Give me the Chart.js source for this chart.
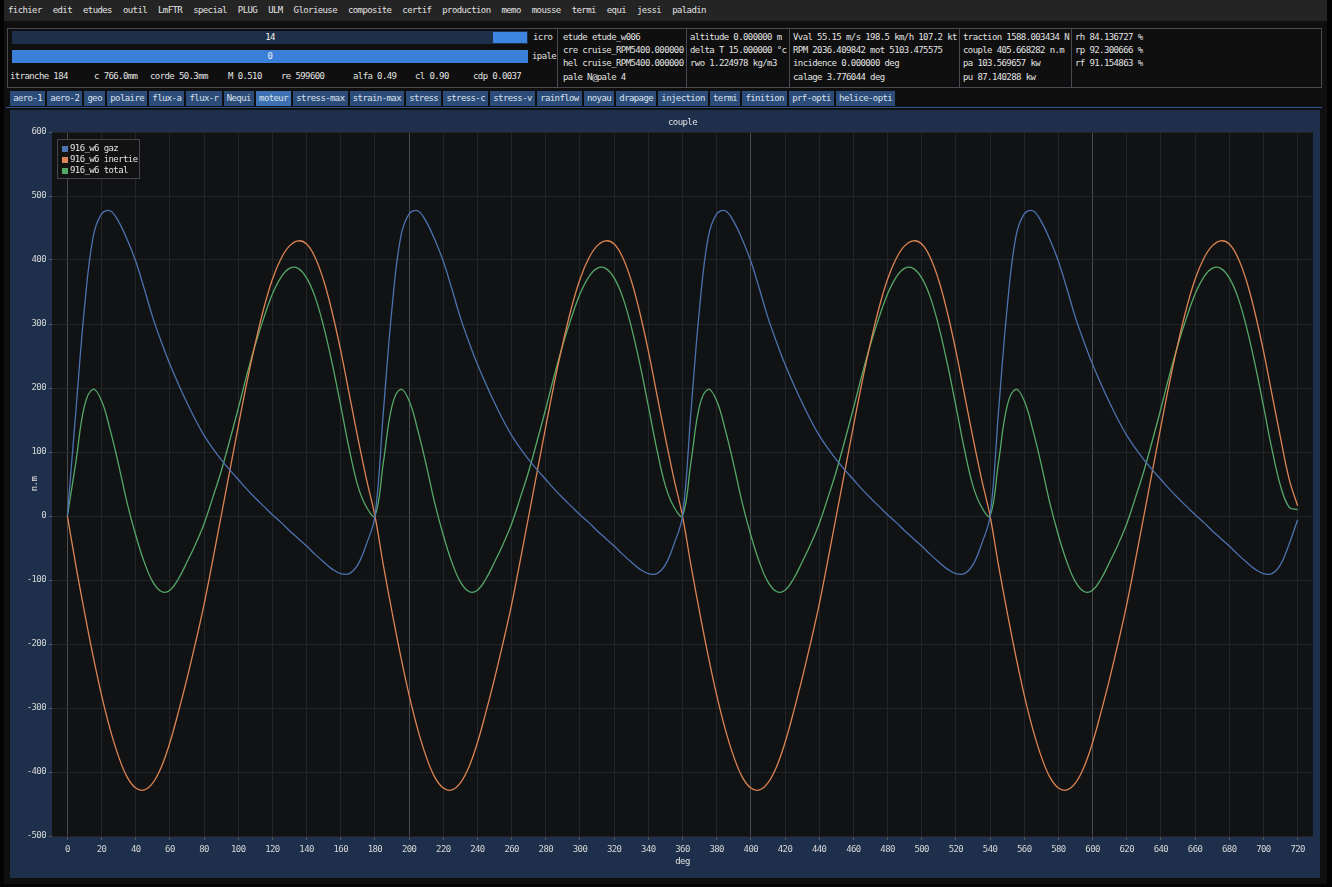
<!DOCTYPE html>
<html lang="fr">
<head>
<meta charset="utf-8">
<title>couple</title>
<script src="https://cdn.jsdelivr.net/npm/chart.js@4.4.1/dist/chart.umd.min.js"></script>
<style>
  html, body { margin:0; padding:0; background:#000; }
  #app { position:relative; width:1332px; height:887px; overflow:hidden; background:#030303;
         font-family:"DejaVu Sans Mono","Liberation Mono",monospace; font-size:9px; letter-spacing:-0.6px; color:#e2e2e2; }
  .abs { position:absolute; white-space:nowrap; line-height:11px; }
  #win { position:absolute; left:4px; top:0; width:1323px; height:884px; background:#0f0f0f; }
  #menubar { position:absolute; left:4px; top:0; width:1323px; height:21px; background:#242424; }
  #menu { position:absolute; left:8px; top:5px; display:flex; gap:11px; line-height:11px; white-space:nowrap; }
  #header { position:absolute; left:7px; top:28px; width:1315px; height:60px; border:1px solid #4a4a54; box-sizing:border-box; }
  .sep { position:absolute; top:28px; width:1px; height:60px; background:#4a4a54; }
  .bar { position:absolute; left:12px; width:516px; height:13px; }
  .bar span { position:absolute; left:0; width:100%; text-align:center; top:1px; line-height:11px; color:#f2f2f2; }
  .grab { position:absolute; left:493px; top:32px; width:34px; height:11px; background:#3d85e0; }
  #tabs { position:absolute; left:10px; top:91px; display:flex; gap:2px; white-space:nowrap; }
  .tab { background:#2b4b78; padding:0 3.15px; height:15px; line-height:15px; color:#dbe2ec; }
  .tab.on { background:#3d71b2; }
  #tabline { position:absolute; left:6px; top:107px; width:1316px; height:1px; background:#2f5890; }
  #panel { position:absolute; left:10px; top:110px; width:1310px; height:768px; background:#1d2f4b; }
  #chart { position:absolute; left:10px; top:110px; width:1310px; height:768px; }
</style>
</head>
<body>
<div id="app">
  <div id="win"></div>
  <div id="menubar"></div>
  <div id="menu">
    <span>fichier</span><span>edit</span><span>etudes</span><span>outil</span><span>LmFTR</span><span>special</span>
    <span>PLUG</span><span>ULM</span><span>Glorieuse</span><span>composite</span><span>certif</span><span>production</span>
    <span>memo</span><span>mousse</span><span>termi</span><span>equi</span><span>jessi</span><span>paladin</span>
  </div>

  <div id="header"></div>
  <div class="sep" style="left:557px"></div>
  <div class="sep" style="left:686px"></div>
  <div class="sep" style="left:789px"></div>
  <div class="sep" style="left:959px"></div>
  <div class="sep" style="left:1071px"></div>

  <div class="bar" style="top:31px;background:#1d2f49"><span>14</span></div>
  <div class="grab"></div>
  <div class="abs" style="left:533px;top:32px">icro</div>
  <div class="bar" style="top:50px;background:#3b7fd8"><span>0</span></div>
  <div class="abs" style="left:532px;top:51px">ipale</div>

  <div class="abs" style="left:10px;top:71px">itranche 184</div>
  <div class="abs" style="left:94px;top:71px">c 766.0mm</div>
  <div class="abs" style="left:150px;top:71px">corde 50.3mm</div>
  <div class="abs" style="left:228px;top:71px">M 0.510</div>
  <div class="abs" style="left:281px;top:71px">re  599600</div>
  <div class="abs" style="left:353px;top:71px">alfa 0.49</div>
  <div class="abs" style="left:415px;top:71px">cl 0.90</div>
  <div class="abs" style="left:473px;top:71px">cdp 0.0037</div>

  <div class="abs" style="left:563px;top:32px">etude etude_w006</div>
  <div class="abs" style="left:563px;top:45px">cre cruise_RPM5400.000000</div>
  <div class="abs" style="left:563px;top:58px">hel cruise_RPM5400.000000</div>
  <div class="abs" style="left:563px;top:72px">pale  N@pale 4</div>

  <div class="abs" style="left:690px;top:32px">altitude 0.000000 m</div>
  <div class="abs" style="left:690px;top:45px">delta T 15.000000 °c</div>
  <div class="abs" style="left:690px;top:58px">rwo 1.224978 kg/m3</div>

  <div class="abs" style="left:793px;top:32px">Vval 55.15 m/s 198.5 km/h 107.2 kt</div>
  <div class="abs" style="left:793px;top:45px">RPM 2036.409842 mot 5103.475575</div>
  <div class="abs" style="left:793px;top:58px">incidence 0.000000 deg</div>
  <div class="abs" style="left:793px;top:72px">calage 3.776044 deg</div>

  <div class="abs" style="left:963px;top:32px">traction 1588.003434 N</div>
  <div class="abs" style="left:963px;top:45px">couple 405.668282 n.m</div>
  <div class="abs" style="left:963px;top:58px">pa 103.569657 kw</div>
  <div class="abs" style="left:963px;top:72px">pu 87.140288 kw</div>

  <div class="abs" style="left:1075px;top:32px">rh 84.136727 %</div>
  <div class="abs" style="left:1075px;top:45px">rp 92.300666 %</div>
  <div class="abs" style="left:1075px;top:58px">rf 91.154863 %</div>

  <div id="tabs">
    <span class="tab">aero-1</span><span class="tab">aero-2</span><span class="tab">geo</span><span class="tab">polaire</span>
    <span class="tab">flux-a</span><span class="tab">flux-r</span><span class="tab">Nequi</span><span class="tab on">moteur</span>
    <span class="tab">stress-max</span><span class="tab">strain-max</span><span class="tab">stress</span><span class="tab">stress-c</span>
    <span class="tab">stress-v</span><span class="tab">rainflow</span><span class="tab">noyau</span><span class="tab">drapage</span>
    <span class="tab">injection</span><span class="tab">termi</span><span class="tab">finition</span><span class="tab">prf-opti</span>
    <span class="tab">helice-opti</span>
  </div>
  <div id="tabline"></div>

  <div id="panel"></div>
  <canvas id="chart" width="1310" height="768"></canvas>
</div>

<script>
// Tick positions of both axes
const xTicks = [0,20,40,60,80,100,120,140,160,180,200,220,240,260,280,300,320,340,360,
                380,400,420,440,460,480,500,520,540,560,580,600,620,640,660,680,700,720];
const yTicks = [-500,-400,-300,-200,-100,0,100,200,300,400,500,600];

// Crank angle samples (deg)
const angles = [
  0,5,10,15,20,25,30,35,40,45,50,55,60,65,70,75,80,85,90,95,100,105,110,115,120,125,130,135,140,145,150,155,160,165,170,175,
  180,185,190,195,200,205,210,215,220,225,230,235,240,245,250,255,260,265,270,275,280,285,290,295,300,305,310,315,320,325,330,335,340,345,350,355,
  360,365,370,375,380,385,390,395,400,405,410,415,420,425,430,435,440,445,450,455,460,465,470,475,480,485,490,495,500,505,510,515,520,525,530,535,
  540,545,550,555,560,565,570,575,580,585,590,595,600,605,610,615,620,625,630,635,640,645,650,655,660,665,670,675,680,685,690,695,700,705,710,715,
  720
];

// Gas torque (n.m)
const gaz = [
  0,165,325,435,472,477,460,432,398,355,310,272,237,206,177,150,126,106,88,72,57,42,28,15,2,-10,-23,-35,-47,-60,-72,-83,-90,-90,-76,-44,
  0,165,325,435,472,477,460,432,398,355,310,272,237,206,177,150,126,106,88,72,57,42,28,15,2,-10,-23,-35,-47,-60,-72,-83,-90,-90,-76,-44,
  0,165,325,435,472,477,460,432,398,355,310,272,237,206,177,150,126,106,88,72,57,42,28,15,2,-10,-23,-35,-47,-60,-72,-83,-90,-90,-76,-44,
  0,165,325,435,472,477,460,432,398,355,310,272,237,206,177,150,126,106,88,72,57,42,28,15,2,-10,-23,-35,-47,-60,-72,-83,-90,-90,-76,-44,
  -6
];

// Inertia torque (n.m)
const inertie = [
  0,-78,-150,-218,-280,-333,-376,-408,-425,-428,-417,-392,-354,-306,-254,-198,-138,-70,0,70,140,208,270,325,370,402,422,430,425,404,368,318,258,190,122,58,
  0,-78,-150,-218,-280,-333,-376,-408,-425,-428,-417,-392,-354,-306,-254,-198,-138,-70,0,70,140,208,270,325,370,402,422,430,425,404,368,318,258,190,122,58,
  0,-78,-150,-218,-280,-333,-376,-408,-425,-428,-417,-392,-354,-306,-254,-198,-138,-70,0,70,140,208,270,325,370,402,422,430,425,404,368,318,258,190,122,58,
  0,-78,-150,-218,-280,-333,-376,-408,-425,-428,-417,-392,-354,-306,-254,-198,-138,-70,0,70,140,208,270,325,370,402,422,430,425,404,368,318,258,190,122,58,
  16
];

// Total torque (n.m)
const total = [
  0,85,172,198,180,135,80,20,-30,-72,-103,-118,-116,-98,-72,-44,-12,28,70,118,168,220,268,310,347,373,387,387,372,342,296,238,172,104,47,14,
  0,85,172,198,180,135,80,20,-30,-72,-103,-118,-116,-98,-72,-44,-12,28,70,118,168,220,268,310,347,373,387,387,372,342,296,238,172,104,47,14,
  0,85,172,198,180,135,80,20,-30,-72,-103,-118,-116,-98,-72,-44,-12,28,70,118,168,220,268,310,347,373,387,387,372,342,296,238,172,104,47,14,
  0,85,172,198,180,135,80,20,-30,-72,-103,-118,-116,-98,-72,-44,-12,28,70,118,168,220,268,310,347,373,387,387,372,342,296,238,172,104,47,14,
  10
];

const seriesNames = ['916_w6 gaz', '916_w6 inertie', '916_w6 total'];
const seriesColors = ['#4c72b0', '#dd8452', '#55a868'];

const FONT = '"DejaVu Sans Mono", "Liberation Mono", monospace';
const SPACING = '-0.6px';

const toPoints = vals => angles.map((a, i) => ({ x: a, y: vals[i] }));

// Plot background, axis titles, title and the in-plot legend
const plotDecor = {
  id: 'plotDecor',
  beforeLayout(chart) { chart.ctx.letterSpacing = SPACING; },
  beforeDraw(chart) {
    const { ctx, chartArea: a } = chart;
    ctx.letterSpacing = SPACING;
    ctx.save();
    ctx.fillStyle = '#111214';
    ctx.fillRect(a.left, a.top, a.right - a.left, a.bottom - a.top);
    ctx.restore();
  },
  afterDraw(chart) {
    const { ctx, chartArea: a } = chart;
    ctx.save();
    ctx.letterSpacing = SPACING;
    ctx.font = '9px ' + FONT;
    ctx.fillStyle = '#e0e0e0';
    ctx.textAlign = 'center';
    ctx.textBaseline = 'middle';
    const cx = (a.left + a.right) / 2;
    ctx.fillText('couple', cx, a.top - 9);
    ctx.fillText('deg', cx, a.bottom + 26);
    ctx.save();
    ctx.translate(a.left - 17, (a.top + a.bottom) / 2);
    ctx.rotate(-Math.PI / 2);
    ctx.fillText('n.m', 0, 0);
    ctx.restore();

    // legend box
    const bx = a.left + 5, by = a.top + 7, bw = 83, bh = 40;
    ctx.fillStyle = 'rgba(18,18,20,0.92)';
    ctx.fillRect(bx, by, bw, bh);
    ctx.strokeStyle = '#45464c';
    ctx.lineWidth = 1;
    ctx.strokeRect(bx + 0.5, by + 0.5, bw - 1, bh - 1);
    ctx.textAlign = 'left';
    chart.data.datasets.forEach((ds, i) => {
      const ry = a.top + 17 + i * 11;
      ctx.fillStyle = ds.borderColor;
      ctx.fillRect(a.left + 10, ry - 3, 6, 6);
      ctx.fillStyle = '#e2e2e2';
      ctx.fillText(ds.label, a.left + 18, ry);
    });
    ctx.restore();
  }
};

Chart.defaults.font.family = FONT;
Chart.defaults.font.size = 9;
Chart.defaults.color = '#d6d6d6';

new Chart(document.getElementById('chart'), {
  type: 'line',
  data: {
    datasets: [gaz, inertie, total].map((vals, i) => ({
      label: seriesNames[i],
      data: toPoints(vals),
      borderColor: seriesColors[i],
      backgroundColor: seriesColors[i],
      borderWidth: 1.3,
      pointRadius: 0,
      fill: false,
      tension: 0.4
    }))
  },
  options: {
    responsive: false,
    animation: false,
    events: [],
    layout: { padding: { top: 22, right: 7, left: 0, bottom: 0 } },
    plugins: { legend: { display: false }, tooltip: { enabled: false }, title: { display: false } },
    scales: {
      x: {
        type: 'linear',
        min: -9,
        max: 729,
        afterBuildTicks: s => { s.ticks = xTicks.map(v => ({ value: v })); },
        afterFit: s => { s.height = 42; },
        border: { display: false },
        grid: {
          color: c => (c.tick && c.tick.value % 200 === 0) ? '#4a4b4f' : '#232427',
          lineWidth: 1,
          tickLength: 4,
          tickColor: '#5a5a5a'
        },
        ticks: { padding: 4, maxRotation: 0, autoSkip: false, color: '#d6d6d6' }
      },
      y: {
        type: 'linear',
        min: -500,
        max: 600,
        afterBuildTicks: s => { s.ticks = yTicks.map(v => ({ value: v })); },
        afterFit: s => { s.width = 42; },
        border: { display: false },
        grid: { color: '#232427', lineWidth: 1, tickLength: 3, tickColor: '#5a5a5a' },
        ticks: { padding: 3, color: '#d6d6d6' }
      }
    }
  },
  plugins: [plotDecor]
});
</script>
</body>
</html>
